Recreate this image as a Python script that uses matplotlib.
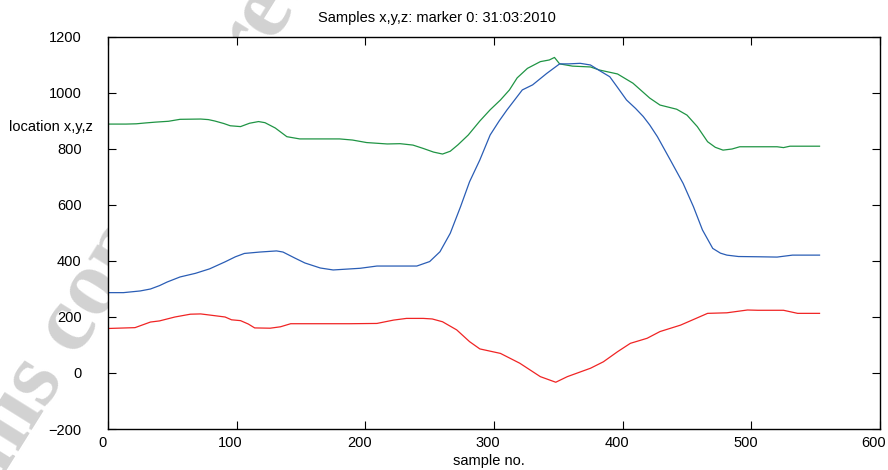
import matplotlib
matplotlib.use("Agg")
import matplotlib.pyplot as plt
import matplotlib.transforms as mtransforms

plt.rcParams['font.family'] = ['Liberation Sans', 'DejaVu Sans']

# green trace
green_x = [0, 14, 22, 29, 37, 47, 56, 72, 78, 83, 90, 95, 103, 110, 117, 122, 130, 139, 149, 180,
           190, 201, 217, 227, 237, 245, 253, 260, 266, 272, 280, 289, 297, 305, 312, 318, 326, 336,
           343, 347, 351, 361, 375, 382, 396, 408, 421, 429, 442, 450, 458, 466, 472, 478, 485, 491,
           520, 525, 530, 553]
green_y = [889, 889, 890, 893, 896, 899, 906, 907, 905, 900, 891, 883, 880, 892, 898, 894, 875, 844,
           836, 836, 832, 823, 818, 819, 814, 802, 789, 782, 792, 815, 850, 900, 940, 975, 1011, 1054,
           1088, 1112, 1118, 1127, 1104, 1096, 1093, 1082, 1068, 1035, 982, 957, 942, 921, 880, 826,
           806, 796, 800, 808, 808, 805, 810, 810]

# blue trace
blue_x = [0, 12, 25, 33, 40, 46, 56, 68, 79, 91, 99, 106, 118, 131, 136, 145, 153, 165, 175, 196,
          209, 240, 250, 258, 266, 274, 281, 289, 297, 304, 310, 316, 322, 330, 341, 351, 358, 367,
          375, 382, 390, 396, 403, 410, 416, 421, 427, 437, 447, 455, 462, 470, 476, 481, 490, 507,
          520, 532, 553]
blue_y = [287, 287, 293, 300, 312, 325, 343, 356, 372, 397, 415, 427, 432, 436, 432, 411, 393, 375,
          368, 374, 382, 382, 398, 433, 499, 594, 683, 761, 850, 900, 939, 975, 1011, 1029, 1070,
          1104, 1104, 1106, 1100, 1080, 1058, 1020, 975, 945, 916, 886, 844, 761, 677, 594, 511, 445,
          428, 421, 416, 415, 414, 421, 421]

# red trace
red_x = [0, 14, 21, 33, 40, 52, 64, 72, 79, 91, 96, 103, 109, 114, 126, 134, 142, 188, 209, 222,
         232, 245, 252, 260, 271, 281, 289, 299, 305, 320, 336, 348, 357, 375, 385, 396, 406, 419,
         429, 445, 466, 481, 497, 505, 525, 536, 553]
red_y = [159, 161, 162, 182, 186, 200, 210, 211, 207, 200, 190, 187, 175, 161, 160, 165, 176, 176,
         177, 189, 195, 195, 193, 183, 154, 112, 86, 76, 70, 35, -13, -33, -13, 17, 40, 76, 106, 124,
         148, 171, 213, 215, 225, 224, 224, 213, 213]

x_ticks = [0, 100, 200, 300, 400, 500, 600]
y_ticks = [-200, 0, 200, 400, 600, 800, 1000, 1200]

W, H = 888, 470
fig = plt.figure(figsize=(W / 100, H / 100), dpi=100)
ax = fig.add_axes([108 / W, 1 - 429 / H, 772 / W, 392 / H])
ax.set_facecolor('white')

# faint watermark behind the plot area
fig.text(-0.056, -0.1, "This copy is free, ", fontsize=68, family='Liberation Serif',
         weight='bold', color='#d2d2d2', rotation=58, rotation_mode='anchor',
         ha='left', va='center', zorder=-1)

ax.plot(green_x, green_y, color='#1f9444', lw=0.9)
ax.plot(blue_x, blue_y, color='#2a5db5', lw=0.9)
ax.plot(red_x, red_y, color='#f02424', lw=0.9)

ax.set_xlim(0, 600)
ax.set_ylim(-200, 1200)
ax.set_xticks(x_ticks)
ax.set_yticks(y_ticks)
ax.tick_params(direction='in', length=6, width=0.8, top=True, right=True, labelsize=10.5)
ax.tick_params(axis='x', pad=5)
ax.tick_params(axis='y', pad=19)
for s in ax.spines.values():
    s.set_linewidth(1.0)

# gnuplot-style labels sit a little left of their ticks
shift = mtransforms.ScaledTranslation(-6 / 100, 0, fig.dpi_scale_trans)
for lab in ax.get_xticklabels():
    lab.set_transform(lab.get_transform() + shift)

fig.text(437 / W, 1 - 18 / H, "Samples x,y,z: marker 0: 31:03:2010", fontsize=10.5,
         ha='center', va='center')
fig.text(9 / W, 1 - 127 / H, "location x,y,z", fontsize=10.5, ha='left', va='center')
fig.text(489 / W, 1 - 461 / H, "sample no.", fontsize=10.5, ha='center', va='center')

fig.savefig('out.png', dpi=100)
